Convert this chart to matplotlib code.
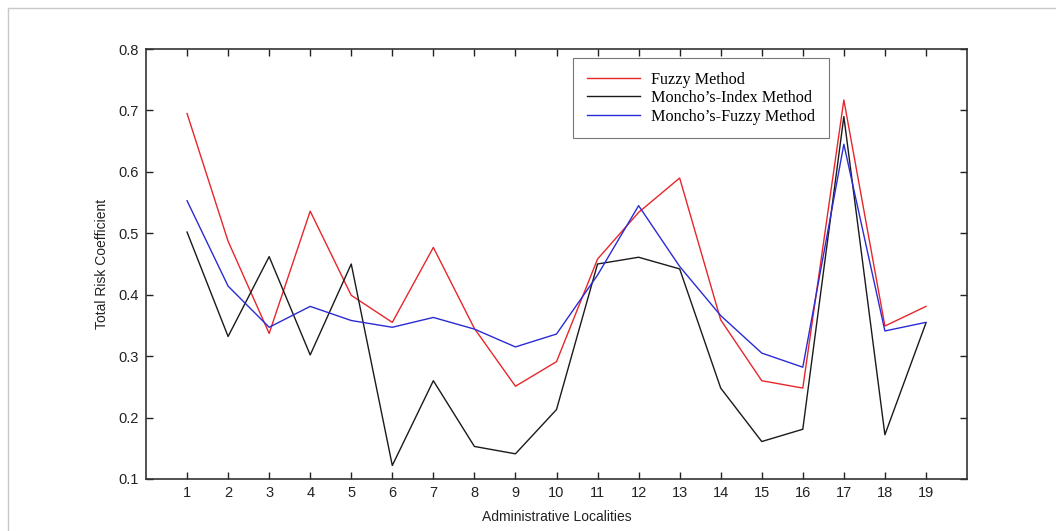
import matplotlib
matplotlib.use("Agg")
import matplotlib.pyplot as plt
from matplotlib.lines import Line2D

localities = list(range(1, 20))
fuzzy = [0.695, 0.487, 0.337, 0.536, 0.399, 0.355, 0.477, 0.345, 0.251, 0.291,
         0.458, 0.534, 0.590, 0.359, 0.260, 0.248, 0.717, 0.349, 0.381]
moncho_index = [0.502, 0.332, 0.462, 0.302, 0.450, 0.122, 0.260, 0.153, 0.141, 0.213,
                0.450, 0.461, 0.442, 0.248, 0.161, 0.181, 0.690, 0.172, 0.354]
moncho_fuzzy = [0.553, 0.414, 0.347, 0.381, 0.358, 0.347, 0.363, 0.344, 0.315, 0.336,
                0.432, 0.545, 0.446, 0.366, 0.305, 0.282, 0.645, 0.341, 0.355]
series_names = ["Fuzzy Method", "Moncho\u2019s-Index Method", "Moncho\u2019s-Fuzzy Method"]
yticks = [0.1, 0.2, 0.3, 0.4, 0.5, 0.6, 0.7, 0.8]

fig = plt.figure(figsize=(10.56, 5.31), dpi=100)
ax = fig.add_axes([146/1056, 52/531, 821/1056, 430/531])

ax.plot(localities, fuzzy, color="#e8262a", lw=1.0, label=series_names[0])
ax.plot(localities, moncho_index, color="#1a1a1a", lw=1.0, label=series_names[1])
ax.plot(localities, moncho_fuzzy, color="#2b2bd6", lw=1.0, label=series_names[2])

ax.set_xlim(0, 20)
ax.set_ylim(0.1, 0.8)
ax.set_xticks(localities)
ax.set_xticklabels([str(v) for v in localities])
ax.set_yticks(yticks)
ax.set_yticklabels([f"{v:.1f}" for v in yticks])
ax.tick_params(direction="in", top=True, right=True, length=5, width=1.0,
               labelsize=10.5, colors="#222222", pad=5)
for lab in ax.get_xticklabels() + ax.get_yticklabels():
    lab.set_family("Liberation Sans")
for s in ax.spines.values():
    s.set_color("#333333")
    s.set_linewidth(1.2)

ax.set_xlabel("Administrative Localities", fontsize=10, family="Liberation Sans",
              color="#222222", labelpad=7)
ax.set_ylabel("Total Risk Coefficient", fontsize=10, family="Liberation Sans",
              color="#222222", labelpad=7)

leg = ax.legend(loc="upper left", bbox_to_anchor=((573-146)/821, (479-58)/430),
                borderaxespad=0, frameon=True, fancybox=False,
                prop={"family": "Liberation Serif", "size": 11.6},
                handlelength=3.3, handletextpad=0.7, labelspacing=0.15,
                borderpad=0.85, borderaxespad_=None) if False else ax.legend(
                loc="upper left", bbox_to_anchor=((573-146)/821, (479-58)/430),
                borderaxespad=0, frameon=True, fancybox=False,
                prop={"family": "Liberation Serif", "size": 11.6},
                handlelength=3.3, handletextpad=0.7, labelspacing=0.15,
                borderpad=0.85)
leg.get_frame().set_edgecolor("#555555")
leg.get_frame().set_linewidth(0.8)

# page border lines
fig.add_artist(Line2D([8/1056, 1.0], [1 - 8/531, 1 - 8/531], color="#c8c8c8", lw=1.0))
fig.add_artist(Line2D([8/1056, 8/1056], [0.0, 1 - 8/531], color="#c8c8c8", lw=1.0))

fig.savefig("out.png", dpi=100)
